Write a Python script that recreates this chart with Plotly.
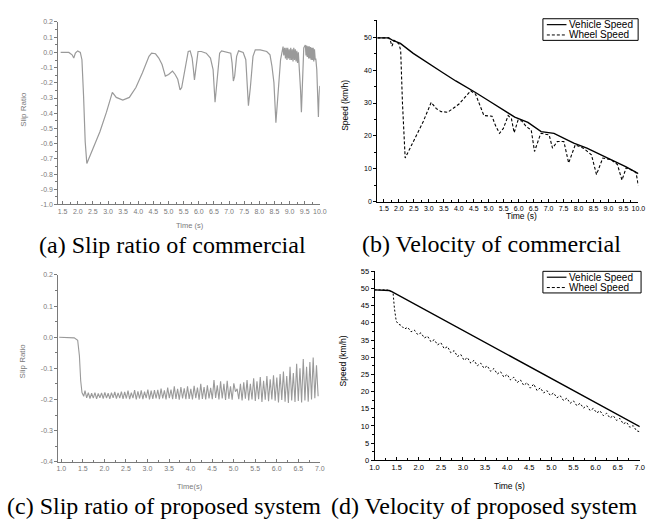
import plotly.graph_objects as go

# ---------------- (a) Slip ratio of commercial ----------------
a_time = [1.435, 1.705, 1.813, 1.868, 1.922, 1.997, 2.084, 2.138, 2.192, 2.246, 2.300, 2.354,
          2.516, 2.732, 2.949, 3.143, 3.273, 3.489, 3.705, 3.922, 4.138, 4.354, 4.441, 4.570,
          4.678, 4.786, 4.895, 5.003, 5.132, 5.219, 5.305, 5.381, 5.435, 5.543, 5.651, 5.716,
          5.781, 5.824, 5.857, 5.900, 5.976, 6.084, 6.246, 6.386, 6.473, 6.538, 6.603, 6.689,
          6.754, 6.949, 7.057, 7.100, 7.143, 7.186, 7.251, 7.316, 7.468, 7.554, 7.597, 7.641,
          7.705, 7.792, 7.868, 8.030, 8.246, 8.354, 8.419, 8.484, 8.549, 8.614, 8.703, 8.786,
          8.810, 8.840, 8.865, 8.890, 8.915, 8.940, 8.965, 8.990, 9.015, 9.040, 9.065, 9.090,
          9.115, 9.140, 9.165, 9.190, 9.215, 9.240, 9.265, 9.290, 9.315, 9.340, 9.365, 9.392,
          9.405, 9.414, 9.440, 9.470, 9.522, 9.545, 9.565, 9.585, 9.608, 9.630, 9.651, 9.675,
          9.695, 9.715, 9.738, 9.760, 9.781, 9.800, 9.824, 9.850, 9.868, 9.900, 9.922, 9.943,
          9.954, 9.976, 9.997]
a_slip = [0.0, 0.0, -0.016, -0.037, -0.005, 0.010, 0.0, -0.048, -0.285, -0.587, -0.731, -0.705,
          -0.630, -0.522, -0.393, -0.263, -0.296, -0.313, -0.296, -0.231, -0.134, -0.026, -0.005, -0.009,
          -0.037, -0.080, -0.156, -0.145, -0.123, -0.145, -0.177, -0.246, -0.231, -0.113, 0.006, 0.010,
          -0.037, -0.113, -0.181, -0.113, 0.006, 0.006, -0.005, -0.037, -0.113, -0.328, -0.188, -0.005,
          0.010, -0.001, -0.005, -0.069, -0.188, -0.156, -0.026, 0.010, -0.001, -0.048, -0.199, -0.350,
          -0.231, -0.026, 0.017, 0.017, 0.006, -0.016, -0.091, -0.199, -0.462, -0.285, -0.048, 0.038,
          -0.020, 0.030, -0.040, 0.030, -0.050, 0.030, -0.040, 0.020, -0.050, 0.030, -0.050, 0.020,
          -0.060, 0.030, -0.050, 0.020, -0.060, 0.010, -0.070, 0.000, -0.080, -0.120, -0.250, -0.393,
          -0.300, -0.360, -0.100, 0.030, 0.049, -0.020, 0.045, -0.030, 0.040, -0.040, 0.040, -0.040,
          0.035, -0.050, 0.030, -0.050, 0.030, -0.060, 0.020, -0.050, -0.040, -0.113, -0.220, -0.300,
          -0.425, -0.290, -0.220]

# ---------------- (b) Velocity of commercial ----------------
b_veh_time = [1.28, 1.66, 1.80, 2.05, 2.48, 3.03, 3.47, 3.90, 4.23, 4.45, 4.56, 5.00, 5.43,
              5.87, 6.31, 6.75, 7.18, 7.51, 7.84, 8.28, 8.71, 9.15, 9.59, 10.0]
b_veh_speed = [49.8, 49.8, 49.0, 48.1, 45.1, 41.7, 39.2, 36.7, 35.0, 33.9, 33.2, 30.7, 28.2,
               25.7, 24.1, 21.3, 20.8, 19.3, 17.8, 16.3, 14.3, 12.5, 10.6, 8.6]
b_whl_time = [1.28, 1.66, 1.72, 1.77, 1.84, 1.92, 2.00, 2.06, 2.12, 2.21, 2.37, 2.59, 2.81,
              3.08, 3.25, 3.41, 3.63, 4.01, 4.40, 4.56, 4.70, 4.84, 5.11, 5.22, 5.36, 5.49,
              5.65, 5.76, 5.85, 5.98, 6.10, 6.26, 6.42, 6.53, 6.70, 6.75, 7.02, 7.13, 7.29,
              7.51, 7.67, 7.89, 8.16, 8.43, 8.60, 8.81, 9.09, 9.30, 9.45, 9.59, 9.86, 9.92, 10.0]
b_whl_speed = [49.8, 49.8, 48.8, 47.3, 49.0, 48.6, 48.0, 46.0, 30.0, 13.3, 16.3, 20.3, 24.3,
               30.2, 28.3, 27.4, 27.2, 29.7, 33.7, 32.7, 29.5, 26.2, 26.0, 23.3, 20.8, 22.3,
               26.2, 25.2, 21.0, 24.8, 24.6, 22.8, 21.8, 15.3, 19.8, 20.8, 20.3, 16.3, 18.3,
               18.3, 11.8, 17.3, 16.3, 14.3, 8.3, 13.3, 12.8, 11.3, 6.6, 10.3, 9.3, 8.8, 4.9]

# ---------------- (c) Slip ratio of proposed system ----------------
c_ramp_time = [0.95, 1.20, 1.30, 1.38, 1.42, 1.45, 1.48, 1.52]
c_ramp_slip = [0.0, 0.0, -0.002, -0.01, -0.06, -0.14, -0.178, -0.19]
c_osc_start = 1.55
c_osc_end = 7.0
c_peaks = [-0.172, -0.178, -0.180, -0.178, -0.181, -0.179, -0.177, -0.180, -0.178, -0.176, -0.179, -0.175,
           -0.176, -0.172, -0.178, -0.170, -0.174, -0.171, -0.175, -0.168, -0.172, -0.170,
           -0.169, -0.165, -0.171, -0.162, -0.168, -0.158, -0.166, -0.160, -0.164,
           -0.158, -0.166, -0.156, -0.162, -0.150, -0.160, -0.155, -0.163,
           -0.138, -0.155, -0.142, -0.150, -0.140, -0.158, -0.148, -0.166, -0.150,
           -0.145, -0.138, -0.150, -0.132, -0.142, -0.128, -0.140, -0.125, -0.135,
           -0.122, -0.130, -0.118, -0.110, -0.125, -0.095, -0.115, -0.085, -0.100, -0.070, -0.095,
           -0.080, -0.065, -0.090]
c_troughs = [-0.195, -0.197, -0.196, -0.198, -0.195, -0.197, -0.196, -0.198, -0.195, -0.197, -0.196, -0.198,
             -0.197, -0.199, -0.196, -0.200, -0.197, -0.199, -0.196, -0.200, -0.198, -0.197,
             -0.199, -0.197, -0.200, -0.196, -0.199, -0.198, -0.201, -0.197, -0.199,
             -0.198, -0.200, -0.196, -0.201, -0.198, -0.200, -0.197, -0.199,
             -0.195, -0.200, -0.197, -0.202, -0.198, -0.201, -0.175, -0.199, -0.203,
             -0.198, -0.203, -0.200, -0.205, -0.199, -0.208, -0.201, -0.206, -0.200,
             -0.204, -0.210, -0.202, -0.207, -0.211, -0.203, -0.208, -0.205, -0.210, -0.203, -0.207,
             -0.200, -0.196, -0.190]

# ---------------- (d) Velocity of proposed system ----------------
d_veh_time = [1.0, 1.28, 1.33, 1.39, 7.0]
d_veh_speed = [49.6, 49.6, 49.4, 49.1, 9.8]
d_whl_head_time = [1.0, 1.28, 1.39, 1.42, 1.45, 1.49, 1.54]
d_whl_head_speed = [49.6, 49.6, 49.1, 48.5, 44.1, 40.5, 39.6]
d_whl_osc_start = 1.6
d_whl_osc_step = 0.075
d_whl_osc_speed = [39.3, 38.2, 38.7, 37.4, 37.9, 36.6, 37.1, 35.6, 36.1, 34.5, 35.1, 33.6,
                   34.2, 32.5, 33.1, 31.3, 31.9, 30.2, 30.8, 29.1, 29.9, 28.3, 29.1, 27.5,
                   28.3, 26.8, 27.5, 25.9, 26.7, 25.1, 25.8, 24.2, 25.0, 23.4, 24.2, 22.6,
                   23.4, 21.8, 22.6, 21.0, 22.2, 20.3, 21.1, 19.6, 20.3, 18.9, 19.6, 18.2,
                   18.8, 17.4, 18.1, 16.6, 17.3, 15.9, 16.6, 15.2, 15.9, 14.5, 15.1, 13.8,
                   14.4, 13.0, 13.7, 12.3, 13.0, 11.6, 12.2, 10.6, 11.1, 9.6, 10.1, 8.6, 8.3]

# ---------------- tick values / labels ----------------
a_xtick_vals = [1.5, 2.0, 2.5, 3.0, 3.5, 4.0, 4.5, 5.0, 5.5, 6.0, 6.5, 7.0, 7.5, 8.0, 8.5, 9.0, 9.5, 10.0]
a_xtick_text = ["1.5", "2.0", "2.5", "3.0", "3.5", "4.0", "4.5", "5.0", "5.5", "6.0", "6.5", "7.0",
                "7.5", "8.0", "8.5", "9.0", "9.5", "10.0"]
a_ytick_vals = [0.2, 0.1, 0.0, -0.1, -0.2, -0.3, -0.4, -0.5, -0.6, -0.7, -0.8, -0.9, -1.0]
a_ytick_text = ["0.2", "0.1", "0.0", "-0.1", "-0.2", "-0.3", "-0.4", "-0.5", "-0.6", "-0.7", "-0.8",
                "-0.9", "-1.0"]
b_ytick_vals = [0, 10, 20, 30, 40, 50]
b_ytick_text = ["0", "10", "20", "30", "40", "50"]
c_xtick_vals = [1.0, 1.5, 2.0, 2.5, 3.0, 3.5, 4.0, 4.5, 5.0, 5.5, 6.0, 6.5, 7.0]
c_xtick_text = ["1.0", "1.5", "2.0", "2.5", "3.0", "3.5", "4.0", "4.5", "5.0", "5.5", "6.0", "6.5", "7.0"]
c_ytick_vals = [0.2, 0.1, 0.0, -0.1, -0.2, -0.3, -0.4]
c_ytick_text = ["0.2", "0.1", "0.0", "-0.1", "-0.2", "-0.3", "-0.4"]
d_ytick_vals = [0, 5, 10, 15, 20, 25, 30, 35, 40, 45, 50, 55]
d_ytick_text = ["0", "5", "10", "15", "20", "25", "30", "35", "40", "45", "50", "55"]

captions = ["(a) Slip ratio of commercial", "(b) Velocity of commercial",
            "(c) Slip ratio of proposed system", "(d) Velocity of proposed system"]
legend_names = ["Vehicle Speed", "Wheel Speed"]

# ---------------- build series ----------------
c_n = len(c_peaks)
c_period = (c_osc_end - c_osc_start) / c_n
c_time = list(c_ramp_time)
c_slip = list(c_ramp_slip)
for i in range(c_n):
    c_time.append(c_osc_start + i * c_period)
    c_slip.append(c_peaks[i])
    c_time.append(c_osc_start + (i + 0.5) * c_period)
    c_slip.append(c_troughs[i])

d_whl_time = list(d_whl_head_time) + [d_whl_osc_start + i * d_whl_osc_step for i in range(len(d_whl_osc_speed))]
d_whl_speed = list(d_whl_head_speed) + list(d_whl_osc_speed)

W, H = 652, 523
def px(x):
    return x / W
def py(y):
    return 1 - y / H

GRAY = "#9a9a9a"
GRAY_T = "#7a7a7a"
SANS = "Liberation Sans"
SERIF = "Liberation Serif"

fig = go.Figure()
fig.add_trace(go.Scatter(x=a_time, y=a_slip, mode="lines", line=dict(color=GRAY, width=1.2),
                         xaxis="x", yaxis="y", showlegend=False))
fig.add_trace(go.Scatter(x=b_veh_time, y=b_veh_speed, mode="lines", line=dict(color="black", width=1.4),
                         xaxis="x2", yaxis="y2", showlegend=False, name=legend_names[0]))
fig.add_trace(go.Scatter(x=b_whl_time, y=b_whl_speed, mode="lines",
                         line=dict(color="black", width=1.1, dash="3px,2px"),
                         xaxis="x2", yaxis="y2", showlegend=False, name=legend_names[1]))
fig.add_trace(go.Scatter(x=c_time, y=c_slip, mode="lines", line=dict(color=GRAY, width=1.1),
                         xaxis="x3", yaxis="y3", showlegend=False))
fig.add_trace(go.Scatter(x=d_veh_time, y=d_veh_speed, mode="lines", line=dict(color="black", width=1.4),
                         xaxis="x4", yaxis="y4", showlegend=False, name=legend_names[0]))
fig.add_trace(go.Scatter(x=d_whl_time, y=d_whl_speed, mode="lines",
                         line=dict(color="black", width=1.0, dash="2px,2px"),
                         xaxis="x4", yaxis="y4", showlegend=False, name=legend_names[1]))

def xax(domain, rng, vals, text, anchor, color, minor_dtick, size):
    return dict(domain=domain, range=rng, anchor=anchor, tickmode="array", tickvals=vals, ticktext=text,
                showgrid=False, zeroline=False, showline=True, linecolor=color, linewidth=1,
                ticks="inside", ticklen=3, tickcolor=color, tickfont=dict(family=SANS, size=size, color=color),
                minor=dict(dtick=minor_dtick, tick0=0, ticks="inside", ticklen=2, tickcolor=color, showgrid=False))

def yax(domain, rng, vals, text, anchor, color, minor_dtick, size):
    return dict(domain=domain, range=rng, anchor=anchor, tickmode="array", tickvals=vals, ticktext=text,
                showgrid=False, zeroline=False, showline=True, linecolor=color, linewidth=1,
                ticks="outside", ticklen=3, tickcolor=color, tickfont=dict(family=SANS, size=size, color=color),
                minor=dict(dtick=minor_dtick, tick0=0, ticks="outside", ticklen=2, tickcolor=color, showgrid=False))

layout = dict(
    width=W, height=H, margin=dict(l=0, r=0, t=0, b=0),
    paper_bgcolor="white", plot_bgcolor="rgba(0,0,0,0)", showlegend=False, hovermode=False,
    xaxis=xax([px(54.3), px(320.7)], [1.357, 10.0], a_xtick_vals, a_xtick_text, "y", GRAY_T, 0.25, 7),
    yaxis=yax([py(204), py(18.3)], [-1.0, 0.2], a_ytick_vals, a_ytick_text, "x", GRAY_T, 0.05, 7),
    xaxis2=xax([px(379.3), px(645.3)], [1.28, 10.0], a_xtick_vals, a_xtick_text, "y2", "black", 0.25, 7),
    yaxis2=yax([py(201.3), py(16)], [0, 55.3], b_ytick_vals, b_ytick_text, "x2", "black", 5, 7),
    xaxis3=xax([px(54.3), px(320.7)], [0.93, 7.0], c_xtick_vals, c_xtick_text, "y3", GRAY_T, 0.25, 7),
    yaxis3=yax([py(465.7), py(275.7)], [-0.4, 0.2], c_ytick_vals, c_ytick_text, "x3", GRAY_T, 0.05, 7),
    xaxis4=xax([px(376.5), px(646.7)], [1.0, 7.0], c_xtick_vals, c_xtick_text, "y4", "black", 0.25, 7.5),
    yaxis4=yax([py(464.3), py(272)], [0, 55], d_ytick_vals, d_ytick_text, "x4", "black", 2.5, 7.5),
)

ann = []
def text(x, y, s, size, color="black", family=SANS, angle=0):
    ann.append(dict(x=px(x), y=py(y), xref="paper", yref="paper", text=s, showarrow=False,
                    xanchor="center", yanchor="middle", textangle=angle,
                    font=dict(family=family, size=size, color=color)))

# axis titles
text(18, 107, "Slip Ratio", 8, GRAY_T, angle=-90)
text(188, 225.5, "Time (s)", 7.5, GRAY_T)
text(347, 103, "Speed (km/h)", 8.5, angle=-90)
text(526, 216, "Time (s)", 8.5)
text(18, 363, "Slip Ratio", 8, GRAY_T, angle=-90)
text(188, 490.5, "Time(s)", 7.5, GRAY_T)
text(344, 363, "Speed (km/h)", 8.5, angle=-90)
text(514, 490, "Time (s)", 8.5)

# captions
text(171, 245, captions[0], 24, family=SERIF)
text(496, 244, captions[1], 24, family=SERIF)
text(162, 511, captions[2], 24, family=SERIF)
text(488, 511, captions[3], 24, family=SERIF)

# legends (boxes with sample lines)
shapes = []
for (bx0, by0, bx1, by1) in [(548, 15, 645, 37), (548, 272, 648, 294)]:
    shapes.append(dict(type="rect", xref="paper", yref="paper", x0=px(bx0), x1=px(bx1), y0=py(by1), y1=py(by0),
                       line=dict(color="black", width=1), fillcolor="white"))
    r1 = by0 + 6
    r2 = by0 + 16.5
    shapes.append(dict(type="line", xref="paper", yref="paper", x0=px(bx0 + 4), x1=px(bx0 + 24), y0=py(r1), y1=py(r1),
                       line=dict(color="black", width=1.2)))
    shapes.append(dict(type="line", xref="paper", yref="paper", x0=px(bx0 + 4), x1=px(bx0 + 24), y0=py(r2), y1=py(r2),
                       line=dict(color="black", width=1, dash="3px,2px")))
    for name, ry in zip(legend_names, [r1, r2]):
        ann.append(dict(x=px(bx0 + 25), y=py(ry), xref="paper", yref="paper", text=name, showarrow=False,
                        xanchor="left", yanchor="middle", font=dict(family=SANS, size=10, color="black")))

layout["annotations"] = ann
layout["shapes"] = shapes
fig.update_layout(**layout)
# remove the browser's default 8px body margin so the figure fills the window exactly
fig.write_html("out.html", config={"displayModeBar": False},
               post_script="document.body.style.margin='0';")
